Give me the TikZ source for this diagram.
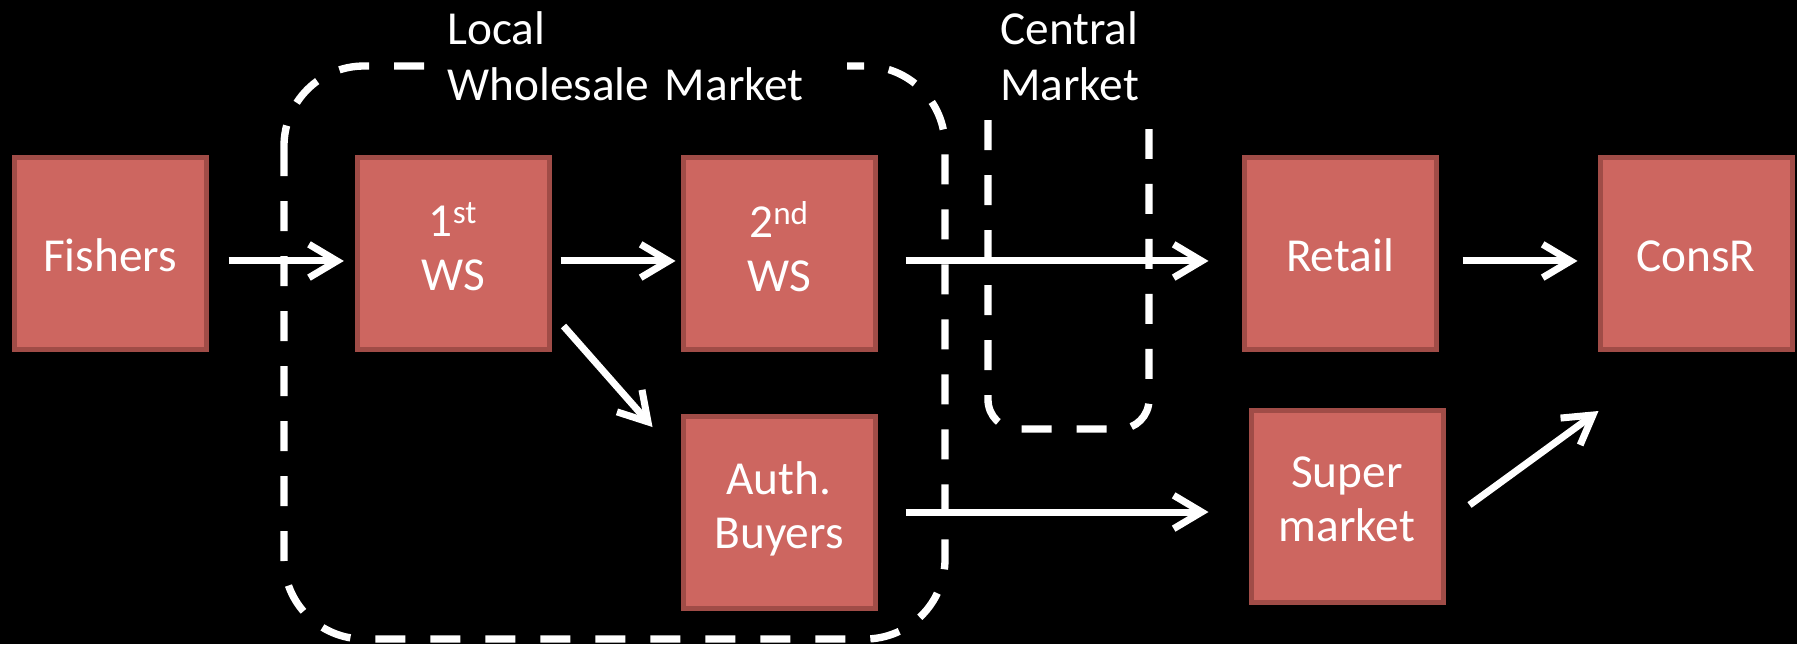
\documentclass[tikz,border=0pt]{standalone}
\usepackage{fontspec}
\setmainfont{Carlito}
\usetikzlibrary{arrows.meta,calc}
\definecolor{boxfill}{RGB}{205,102,96}
\definecolor{boxline}{RGB}{160,76,71}
\begin{document}
\begin{tikzpicture}[x=0.75pt,y=-0.75pt,
  stage/.style={draw=boxline, fill=boxfill, line width=3.75pt, minimum width=144pt, minimum height=144pt, inner sep=0pt, text=white, align=center, font=\fontsize{35.5}{40.5}\selectfont,
    execute at begin node={\rule{0pt}{36.75pt}},
    execute at end node={\rule[-10.5pt]{0pt}{10.5pt}}},
  flow/.style={draw=white, line width=5.25pt, -{Straight Barb[length=21pt,width=25pt]}},
  region/.style={draw=white, line width=5.5pt, dash pattern=on 22.5pt off 18.75pt},
  label/.style={text=white, align=left, font=\fontsize{35.5}{42}\selectfont, inner sep=0pt}]
\fill[black] (0,0) rectangle (1797,644);
\useasboundingbox (0,0) rectangle (1797,644);
% regions
\draw[region, rounded corners=60pt] (284,66) rectangle (945,639);
\draw[region, rounded corners=22pt] (988,120) -- (988,429) -- (1149,429) -- (1149,129);
\node[label, fill=black, anchor=north west, inner xsep=16.5pt, text width=283.5pt] (lwm) at (425,11) {Local\\Wholesale Market};
\node[label, anchor=north west] (cm) at (1000,11) {Central\\Market};
% stages
\node[stage] (fish) at (110,253.5) {Fishers};
\node[stage] (ws1) at (453,253.5) {1\textsuperscript{st}\\WS};
\node[stage] (ws2) at (779,253.5) {2\textsuperscript{nd}\\WS};
\node[stage] (auth) at (779,512) {Auth.\\Buyers};
\node[stage] (retail) at (1340,253.5) {Retail};
\node[stage] (super) at (1347,506) {Super\\market};
\node[stage] (consr) at (1696,253.5) {ConsR};
% flows
\draw[flow, shorten <=15pt, shorten >=8pt] ([yshift=-5.6pt]fish.east) -- ([yshift=-5.6pt]ws1.west);
\draw[flow, shorten <=6.75pt, shorten >=3.75pt] ([yshift=-5.6pt]ws1.east) -- ([yshift=-5.6pt]ws2.west);
\draw[flow, shorten <=21pt, shorten >=24.75pt] ([yshift=-5.6pt]ws2.east) -- ([yshift=-5.6pt]retail.west);
\draw[flow, shorten <=18pt, shorten >=15pt] ([yshift=-5.6pt]retail.east) -- ([yshift=-5.6pt]consr.west);
\draw[flow, shorten <=21pt, shorten >=30pt] (auth.east) -- (auth.east -| super.west);
\draw[flow] ($(ws1.south east)+(12,-26)$) -- ($(auth.north west)+(-28,13.5)$);
\draw[flow] ($(super.east)+(24,-1)$) -- ($(consr.south west)+(1,59)$);
\end{tikzpicture}
\end{document}
